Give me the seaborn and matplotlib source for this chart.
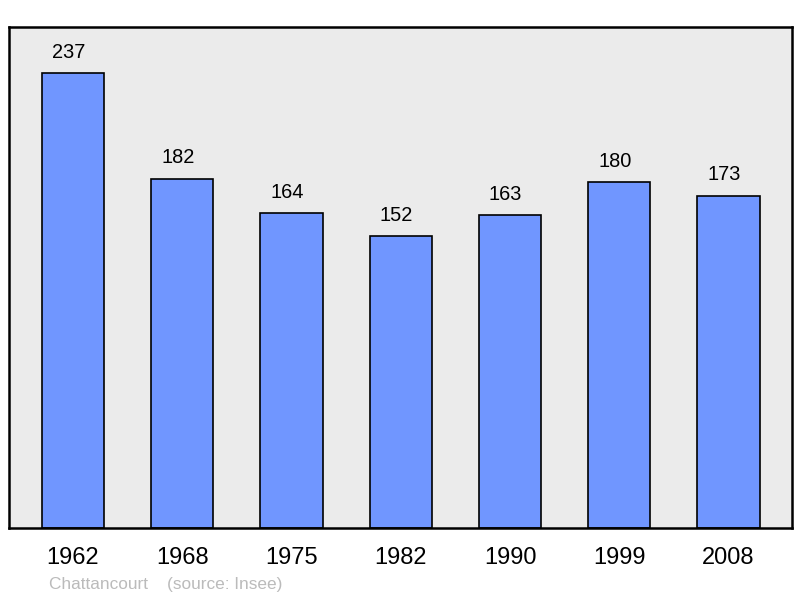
import pandas as pd
import matplotlib.pyplot as plt
import seaborn as sns

years = ['1962', '1968', '1975', '1982', '1990', '1999', '2008']
population = [237, 182, 164, 152, 163, 180, 173]

df = pd.DataFrame({'year': years, 'pop': population})

sns.set_style('white')
plt.rcParams['font.family'] = ['Liberation Sans', 'DejaVu Sans']

fig = plt.figure(figsize=(8, 5.98), dpi=100)
ax = fig.add_axes([9 / 800, 1 - 528 / 598, 783 / 800, 501 / 598])
ax.set_facecolor('#ebebeb')

sns.barplot(x='year', y='pop', data=df, ax=ax, color='#7096ff', width=0.57,
            edgecolor='black', linewidth=1.2, saturation=1)

# value labels sit a little left of the bar centre in the original
for i, v in enumerate(population):
    ax.text(i - 0.04, v + 6, str(v), ha='center', va='bottom', fontsize=14.4, color='black')

ax.set_xlim(-0.585, 6.58)
ax.set_ylim(0, 261)
ax.set_yticks([])
ax.set_xlabel('')
ax.set_ylabel('')
ax.tick_params(axis='x', length=0, labelsize=17, pad=14, labelcolor='black')
for s in ax.spines.values():
    s.set_color('black')
    s.set_linewidth(1.8)

fig.text(49 / 800, 1 - 585 / 598, 'Chattancourt    (source: Insee)', fontsize=12.4,
         color='#bbbbbb', ha='left', va='center')

plt.savefig('out.png', dpi=100)
